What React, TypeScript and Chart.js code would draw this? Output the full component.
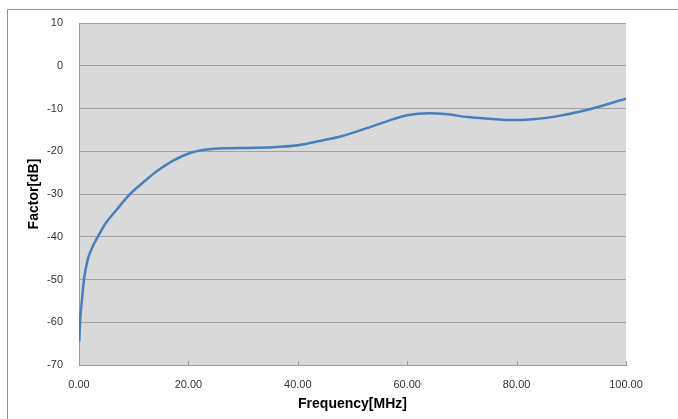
import React, { useEffect, useRef } from "react";
import { Chart, registerables } from "chart.js";

Chart.register(...registerables);

const frequencyMHz = [0.06, 0.18, 0.55, 0.91, 1.58, 2.5, 3.4, 4.9, 6.8, 9.2, 12.2, 14.2, 17.2, 20.3, 23.3, 26.4, 32.5, 40, 44, 48, 54, 60, 64, 67, 71, 75, 79, 83, 87, 93, 100];
const factorDb = [-64.5, -60.2, -54.7, -50, -45.4, -42.3, -40.1, -36.8, -33.8, -30.2, -26.8, -24.7, -22.2, -20.4, -19.6, -19.3, -19.2, -18.6, -17.6, -16.5, -14.0, -11.6, -11.1, -11.3, -12.0, -12.4, -12.7, -12.5, -11.9, -10.3, -7.7];
const xTicks = [0, 20, 40, 60, 80, 100];
const yTicks = [10, 0, -10, -20, -30, -40, -50, -60, -70];
const xTitle = "Frequency[MHz]";
const yTitle = "Factor[dB]";

const W = 678;
const H = 419;
const FONT = "'Liberation Sans', Arial, sans-serif";

const decorPlugin = {
  id: "decor",
  beforeDraw(chart: any) {
    const ctx = chart.ctx;
    const a = chart.chartArea;
    ctx.save();
    ctx.fillStyle = "#ffffff";
    ctx.fillRect(0, 0, chart.width, chart.height);
    ctx.strokeStyle = "#8e8e8e";
    ctx.lineWidth = 1;
    ctx.beginPath();
    ctx.moveTo(7.5, chart.height);
    ctx.lineTo(7.5, 9.5);
    ctx.lineTo(chart.width, 9.5);
    ctx.stroke();
    ctx.fillStyle = "#d9d9d9";
    ctx.fillRect(a.left, a.top, a.right - a.left, a.bottom - a.top);
    ctx.restore();
  },
  afterDraw(chart: any) {
    const ctx = chart.ctx;
    const xs = chart.scales.x;
    const a = chart.chartArea;
    ctx.save();
    ctx.strokeStyle = "#9a9a9a";
    ctx.lineWidth = 1;
    ctx.beginPath();
    xTicks.forEach((v) => {
      if (v === 0) return;
      const px = Math.round(xs.getPixelForValue(v)) + 0.5;
      ctx.moveTo(px, a.bottom - 4);
      ctx.lineTo(px, a.bottom);
    });
    ctx.stroke();
    ctx.restore();
  },
};

export default function App() {
  const ref = useRef<HTMLCanvasElement | null>(null);
  useEffect(() => {
    if (!ref.current) return;
    const chart = new Chart(ref.current, {
      type: "scatter",
      data: {
        datasets: [
          {
            data: frequencyMHz.map((x, i) => ({ x, y: factorDb[i] })),
            showLine: true,
            borderColor: "#4a7ebb",
            borderWidth: 2.5,
            pointRadius: 0,
            cubicInterpolationMode: "monotone",
            fill: false,
          },
        ],
      },
      options: {
        animation: false,
        responsive: false,
        devicePixelRatio: 1,
        layout: { padding: { left: 0, right: 52, top: 23, bottom: 0 } },
        plugins: {
          legend: { display: false },
          tooltip: { enabled: false },
        },
        scales: {
          x: {
            type: "linear",
            min: 0,
            max: 100,
            afterBuildTicks: (s: any) => {
              s.ticks = xTicks.map((v) => ({ value: v }));
            },
            afterFit: (s: any) => {
              s.height = 54;
            },
            grid: { display: false },
            border: { display: true, color: "#9a9a9a", width: 1 },
            ticks: {
              padding: 5,
              color: "#333333",
              font: { family: FONT, size: 11 },
              maxRotation: 0,
              callback: (v: any) => Number(v).toFixed(2),
            },
            title: {
              display: true,
              text: xTitle,
              color: "#000000",
              font: { family: FONT, size: 14, weight: "bold" },
              padding: { top: 0, bottom: 6 },
            },
          },
          y: {
            type: "linear",
            min: -70,
            max: 10,
            afterBuildTicks: (s: any) => {
              s.ticks = yTicks.map((v) => ({ value: v }));
            },
            afterFit: (s: any) => {
              s.width = 79;
            },
            grid: { color: "#a0a0a0", lineWidth: 1, drawTicks: false },
            border: { display: true, color: "#9a9a9a", width: 1 },
            ticks: {
              padding: 16,
              color: "#333333",
              font: { family: FONT, size: 11 },
            },
            title: {
              display: true,
              text: yTitle,
              color: "#000000",
              font: { family: FONT, size: 14, weight: "bold" },
              padding: { top: 26, bottom: 0 },
            },
          },
        },
      },
      plugins: [decorPlugin],
    } as any);
    return () => chart.destroy();
  }, []);
  return (
    <div style={{ position: "absolute", left: 0, top: 0, width: W, height: H }}>
      <canvas ref={ref} width={W} height={H} style={{ display: "block" }} />
    </div>
  );
}
